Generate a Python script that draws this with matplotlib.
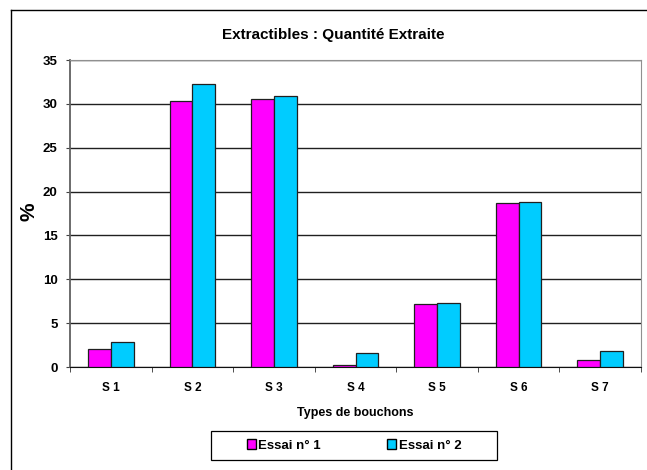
import matplotlib
matplotlib.use("Agg")
import matplotlib.pyplot as plt
from matplotlib.lines import Line2D
from matplotlib.patches import Patch, Rectangle
import numpy as np

categories = ["S 1", "S 2", "S 3", "S 4", "S 5", "S 6", "S 7"]
essai1 = [2.05, 30.3, 30.55, 0.26, 7.18, 18.65, 0.8]
essai2 = [2.8, 32.3, 30.85, 1.55, 7.3, 18.8, 1.78]
yticks = [0, 5, 10, 15, 20, 25, 30, 35]

plt.rcParams['font.family'] = ['Liberation Sans', 'DejaVu Sans']
plt.rcParams['font.weight'] = 'bold'

W, H = 647, 470
fig = plt.figure(figsize=(W/100, H/100), dpi=100)
ax = fig.add_axes([70/W, 1-367/H, 571/W, 307/H])

x = np.arange(len(categories))
w = 0.28
ax.bar(x - w/2, essai1, w, color='#FF00FF', edgecolor='#202020', linewidth=0.9, zorder=3)
ax.bar(x + w/2, essai2, w, color='#00CCFF', edgecolor='#202020', linewidth=0.9, zorder=3)

ax.set_xlim(-0.5, len(categories) - 0.5)
ax.set_ylim(0, 35)
ax.set_yticks(yticks)
ax.set_yticklabels([str(v) for v in yticks], fontsize=9.5, fontweight='bold')
ax.set_xticks(x)
ax.set_xticklabels(categories, fontsize=8.5, fontweight='bold')
ax.set_xticks(np.arange(-0.5, len(categories)), minor=True)
ax.tick_params(axis='x', which='major', length=0, pad=11)
ax.tick_params(axis='x', which='minor', length=3.6, direction='out', color='#303030')
ax.tick_params(axis='y', length=3, direction='out', color='#404040', pad=6)
ax.grid(axis='y', color='#202020', linewidth=1, zorder=0)
for s in ['top', 'right']:
    ax.spines[s].set_color('#909090')
ax.spines['left'].set_color('#606060')
ax.spines['left'].set_linewidth(1.3)
ax.spines['bottom'].set_color('#101010')

ax.set_xlabel('Types de bouchons', fontsize=9, fontweight='bold', labelpad=9)
fig.text(29/W, 1 - 212/H, '%', rotation=90, ha='center', va='center',
         fontsize=15, fontweight='bold')

fig.text(333/W, 1 - 34.5/H, 'Extractibles : Quantité Extraite',
         ha='center', va='center', fontsize=11, fontweight='bold')

handles = [Patch(facecolor='#FF00FF', edgecolor='black'), Patch(facecolor='#00CCFF', edgecolor='black')]
leg = fig.legend(handles, ['Essai n° 1', 'Essai n° 2'], loc='center',
                 bbox_to_anchor=(354/W, 1 - 445.5/H), ncol=2,
                 fontsize=9.5, frameon=False, handlelength=0.7, handleheight=0.7,
                 handletextpad=0.2, columnspacing=5.0)
fig.add_artist(Rectangle((211/W, 1 - 460/H), (497-211)/W, 29/H, transform=fig.transFigure,
                         facecolor='none', edgecolor='black', linewidth=0.9))

fig.add_artist(Line2D([10.5/W, 10.5/W], [0, 1 - 9.5/H], transform=fig.transFigure, color='black', linewidth=1))
fig.add_artist(Line2D([10.5/W, 1], [1 - 9.5/H, 1 - 9.5/H], transform=fig.transFigure, color='black', linewidth=1))

fig.savefig('out.png', dpi=100)
